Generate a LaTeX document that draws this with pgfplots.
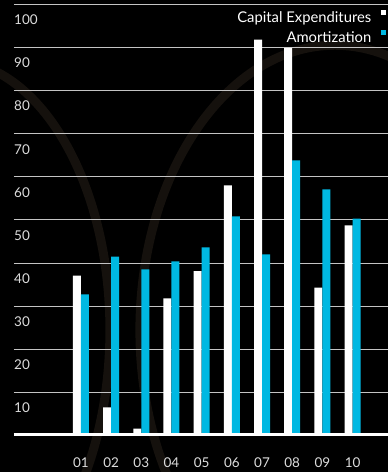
\documentclass[border=0pt]{standalone}
\usepackage{fontspec}
\setmainfont{Lato}
\usepackage{pgfplots}
\pgfplotsset{compat=1.18}
\definecolor{cyanbar}{HTML}{00B8E2}
\definecolor{gridgray}{HTML}{C4C4C4}
\definecolor{labgray}{HTML}{DCDCDC}
\definecolor{ring}{RGB}{21,17,13}
\begin{document}
\begin{tikzpicture}
\fill[black] (0pt,0pt) rectangle (388pt,472pt);
\begin{scope}
\clip (0pt,0pt) rectangle (388pt,472pt);
\draw[ring, line width=9pt] (-50pt,142pt) ellipse [x radius=160pt, y radius=270pt];
\draw[ring, line width=9pt] (335pt,142pt) ellipse [x radius=195pt, y radius=285pt];
\end{scope}
\begin{axis}[
  at={(14pt,36.5pt)}, anchor=south west,
  scale only axis, width=374pt, height=431.5pt,
  xmin=-1.218, xmax=11.166, ymin=0, ymax=100,
  axis line style={draw=none},
  tick style={draw=none},
  ymajorgrids, grid style={gridgray, line width=0.9pt},
  ybar=0pt, bar width=8pt,
  xtick={1,...,10},
  xticklabels={01,02,03,04,05,06,07,08,09,10},
  ytick={10,20,...,100},
  font=\fontsize{13.5}{15}\selectfont,
  /pgf/number format/assume math mode=true,
  yticklabel style={anchor=north west, inner sep=0pt, text=labgray, yshift=-10.5pt},
  xticklabel style={anchor=center, inner sep=0pt, text=labgray, yshift=-22.5pt},
  legend style={at={(axis description cs:1,1)}, anchor=north east, xshift=-1.3pt, yshift=-6pt,
    draw=none, fill=none, text=white, font=\fontsize{14.8}{16}\selectfont,
    inner sep=0pt, row sep=5pt,
    nodes={inner sep=0pt, text height=11pt, text depth=3pt},
    legend cell align=right},
  legend plot pos=right,
  legend image code/.code={\fill[#1] (0pt,3pt) rectangle (5pt,8pt);},
]
\addplot[fill=white, draw=none] coordinates {(1,37.1) (2,6.5) (3,1.6) (4,31.8) (5,38.1) (6,58.0) (7,91.8) (8,89.9) (9,34.3) (10,48.7)};
\addplot[fill=cyanbar, draw=none] coordinates {(1,32.7) (2,41.5) (3,38.5) (4,40.4) (5,43.6) (6,50.8) (7,42.0) (8,63.8) (9,57.1) (10,50.3)};
\legend{Capital Expenditures\hspace*{10pt}, Amortization\hspace*{10pt}}
\draw[white, line width=5pt] (rel axis cs:0,0) -- (rel axis cs:1,0);
\end{axis}
\end{tikzpicture}
\end{document}
